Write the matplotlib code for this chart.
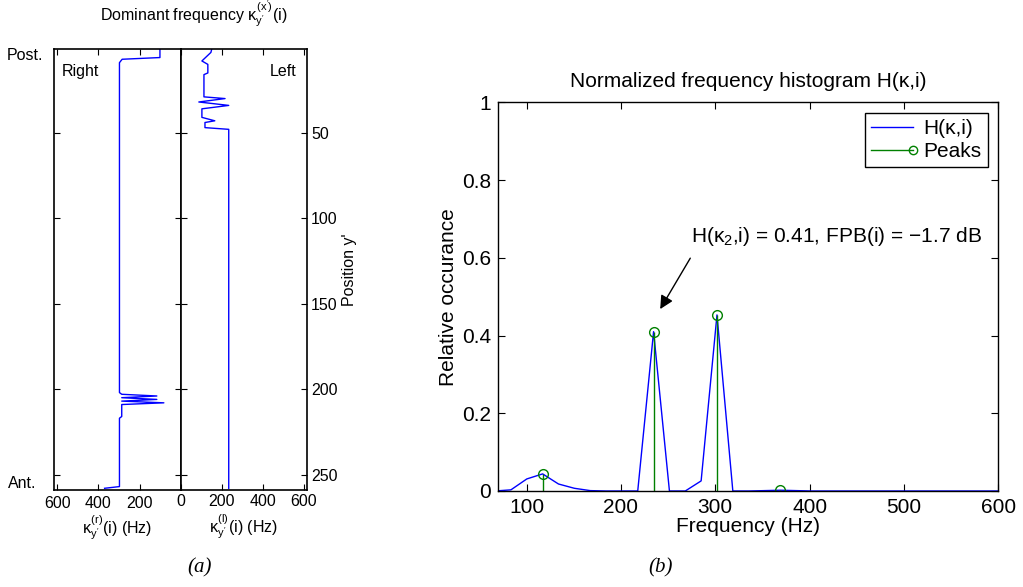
import matplotlib
matplotlib.use('Agg')
import matplotlib.pyplot as plt
from matplotlib.lines import Line2D
from matplotlib.legend_handler import HandlerBase

plt.rcParams['font.family'] = ['Liberation Sans', 'DejaVu Sans']
plt.rcParams['mathtext.fontset'] = 'custom'
plt.rcParams['mathtext.rm'] = 'Liberation Sans'
plt.rcParams['mathtext.it'] = 'Liberation Sans'
plt.rcParams['mathtext.bf'] = 'Liberation Sans:bold'

# ---------------- data: panel (a) ----------------
right_row = [1, 6, 7, 9, 202, 203, 204, 205, 206, 207, 208, 209, 216, 217, 257, 258]
right_hz = [102, 102, 285, 298, 298, 287, 117, 287, 117, 287, 83, 287, 287, 298, 298, 370]

left_row = [1, 3, 8, 10, 15, 16, 29, 30, 32, 34, 36, 41, 43, 44, 47, 48, 258]
left_hz = [150, 146, 102, 131, 131, 112, 112, 215, 87, 233, 102, 102, 165, 117, 117, 233, 233]

pos_ticks = [50, 100, 150, 200, 250]
hz_ticks_right = [600, 400, 200, 0]
hz_ticklabels_right = ['600', '400', '200', '']
hz_ticks_left = [0, 200, 400, 600]
hz_ticklabels_left = ['0', '200', '400', '600']

# ---------------- data: panel (b) ----------------
freq = [66.6, 83.4, 100.2, 117.0, 133.8, 150.6, 167.4, 184.2, 201.0, 217.8,
        234.6, 251.4, 268.2, 285.0, 301.8, 318.6, 335.4, 352.2, 369.0, 385.8,
        402.6, 419.4, 600.0]
H = [0.0, 0.003, 0.031, 0.044, 0.018, 0.007, 0.001, 0.0, 0.0, 0.0,
     0.41, 0.0, 0.0, 0.026, 0.453, 0.0, 0.0, 0.001, 0.002, 0.001,
     0.0, 0.0, 0.0]
peak_f = [117.0, 234.6, 301.8, 369.0]
peak_h = [0.044, 0.41, 0.453, 0.002]
b_xticks = [100, 200, 300, 400, 500, 600]
b_yticks = [0, 0.2, 0.4, 0.6, 0.8, 1.0]
b_yticklabels = ['0', '0.2', '0.4', '0.6', '0.8', '1']

W, Hp = 1023, 587
def fx(x):
    return x / W
def fy(y):
    return 1 - y / Hp

BLUE = (0, 0, 1)
GREEN = (0, 0.5, 0)
FA = 11.5
FB = 15

fig = plt.figure(figsize=(W / 100, Hp / 100), dpi=100)

# ---- panel (a), Right ----
axR = fig.add_axes([fx(54), fy(490), 127 / W, 441 / Hp])
axR.plot(right_hz, right_row, color=BLUE, lw=1)
axR.set_xlim(615, 0)
axR.set_ylim(259, 1)
axR.set_xticks(hz_ticks_right)
axR.set_xticklabels(hz_ticklabels_right)
axR.set_yticks(pos_ticks)
axR.set_yticklabels([])
axR.tick_params(direction='in', top=True, right=True, left=True, length=4,
                labelsize=FA, pad=4, width=0.8)
axR.set_xlabel(r"$\kappa_{y'}^{(r)}$(i) (Hz)", fontsize=FA, labelpad=2)
axR.text(0.06, 0.965, 'Right', transform=axR.transAxes, fontsize=FA,
         ha='left', va='top')

# ---- panel (a), Left ----
axL = fig.add_axes([fx(181), fy(490), 126 / W, 441 / Hp])
axL.plot(left_hz, left_row, color=BLUE, lw=1)
axL.set_xlim(0, 615)
axL.set_ylim(259, 1)
axL.set_xticks(hz_ticks_left)
axL.set_xticklabels(hz_ticklabels_left)
axL.set_yticks(pos_ticks)
axL.yaxis.tick_right()
axL.tick_params(direction='in', top=True, right=True, left=True, length=4,
                labelsize=FA, labelleft=False, labelright=True, pad=3, width=0.8)
axL.yaxis.set_label_position('right')
axL.set_ylabel("Position y'", fontsize=FA, labelpad=3)
axL.set_xlabel(r"$\kappa_{y'}^{(l)}$(i) (Hz)", fontsize=FA, labelpad=2)
axL.text(0.92, 0.965, 'Left', transform=axL.transAxes, fontsize=FA,
         ha='right', va='top')

for ax in (axR, axL):
    for s in ax.spines.values():
        s.set_linewidth(1.2)

fig.text(fx(194), fy(14), r"Dominant frequency $\kappa_{y'}^{(x')}$(i)",
         fontsize=FA, ha='center', va='center')
fig.text(fx(25), fy(55), 'Post.', fontsize=FA, ha='center', va='center')
fig.text(fx(22), fy(483), 'Ant.', fontsize=FA, ha='center', va='center')

# ---- panel (b) ----
axB = fig.add_axes([fx(498.3), fy(491), 500 / W, 388.7 / Hp])
axB.plot(freq, H, color=BLUE, lw=1)
ml, sl, bl = axB.stem(peak_f, peak_h, basefmt=' ')
ml.set_color(GREEN)
ml.set_markerfacecolor('none')
ml.set_markersize(7)
ml.set_markeredgewidth(1)
sl.set_color(GREEN)
sl.set_linewidth(1)
axB.set_xlim(70, 600)
axB.set_ylim(0, 1)
axB.set_xticks(b_xticks)
axB.set_yticks(b_yticks)
axB.set_yticklabels(b_yticklabels)
axB.tick_params(direction='in', top=True, right=True, length=5,
                labelsize=FB, pad=5, width=0.8)
for s in axB.spines.values():
    s.set_linewidth(1.0)
axB.set_title('Normalized frequency histogram H(κ,i)', fontsize=FB, pad=11)
axB.set_xlabel('Frequency (Hz)', fontsize=FB, labelpad=0)
axB.set_ylabel('Relative occurance', fontsize=FB, labelpad=3)

axB.annotate('', xy=(241.6, 0.468), xytext=(273.5, 0.599),
             arrowprops=dict(arrowstyle='-|>', color='k', lw=1,
                             mutation_scale=20, shrinkA=0, shrinkB=0))
axB.text(274.6, 0.654, r"H($\kappa_{\mathregular{2}}$,i) = 0.41, FPB(i) = −1.7 dB",
         fontsize=FB, ha='left', va='center')


class StemHandler(HandlerBase):
    def create_artists(self, legend, orig_handle, xdescent, ydescent,
                       width, height, fontsize, trans):
        y = height / 2 - ydescent
        line = Line2D([-xdescent, width - xdescent], [y, y], color=GREEN, lw=1)
        mk = Line2D([width - xdescent], [y], marker='o', mfc='none',
                    mec=GREEN, ls='none', ms=6)
        line.set_transform(trans)
        mk.set_transform(trans)
        return [line, mk]


h_line = Line2D([], [], color=BLUE, lw=1)
h_stem = Line2D([], [], color=GREEN)
leg = axB.legend([h_line, h_stem], ['H(κ,i)', 'Peaks'],
                 handler_map={h_stem: StemHandler()},
                 loc='upper right', fontsize=FB, fancybox=False,
                 framealpha=1, edgecolor='k', borderaxespad=0.5,
                 handlelength=2.0, handletextpad=0.5, borderpad=0.3,
                 labelspacing=0.2)
leg.get_frame().set_linewidth(1)

fig.text(fx(200), fy(568), '(a)', fontsize=15, style='italic',
         family='Liberation Serif', ha='center', va='center')
fig.text(fx(661), fy(568), '(b)', fontsize=15, style='italic',
         family='Liberation Serif', ha='center', va='center')

fig.savefig('out.png', dpi=100)
